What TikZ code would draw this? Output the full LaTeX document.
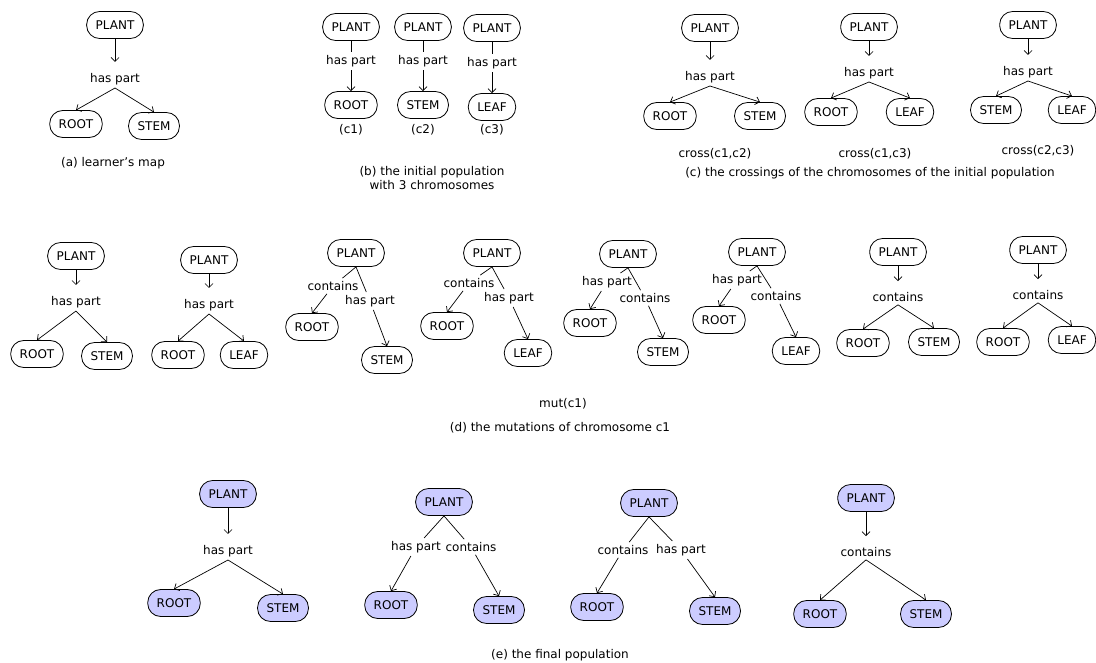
\documentclass[tikz,border=0pt]{standalone}
\usepackage{fontspec}
\setmainfont{DejaVu Sans}
\usetikzlibrary{arrows.meta}
\definecolor{conceptfill}{HTML}{CCCCFF}

\begin{document}
\begin{tikzpicture}[x=1pt,y=-1pt,
      concept/.style={rectangle,draw=black,line width=0.8pt,rounded corners=13pt,
                      minimum height=27pt,inner xsep=9pt,
                      font=\fontsize{12}{14}\selectfont},
      final/.style={concept,fill=conceptfill},
      phrase/.style={inner sep=3pt,font=\fontsize{12}{14}\selectfont},
      caption/.style={align=center,font=\fontsize{12}{14}\selectfont},
      link/.style={draw=black,line width=0.7pt},
      arrow/.style={link,-{Straight Barb[length=4pt,width=8pt]}},
      into/.style={arrow,shorten >=8pt}
    ]

    \fill[white] (0,0) rectangle (1096,663);
    \useasboundingbox (0,0) rectangle (1096,663);

    % (a) learner's map
    \node[concept] (PA) at (115,25) {PLANT};
    \node[phrase] (HA) at (115,79) {has part};
    \node[concept] (RA) at (76,124) {ROOT};
    \node[concept] (SA) at (154,126) {STEM};
    \draw[into] (PA) -- (HA);
    \draw[arrow] (HA.south) -- (RA.north);
    \draw[arrow] (HA.south) -- (SA.north);
    \node[caption] (CA) at (113,163) {(a) learner's map};

    % (b) initial population
    \node[concept] (PB1) at (351,27) {PLANT};
    \node[phrase] (HB1) at (351,61) {has part};
    \node[concept] (RB1) at (351,105) {ROOT};
    \node[caption] (CB1) at (351,130) {(c1)};
    \draw[link] (PB1) -- (HB1);
    \draw[arrow] (HB1) -- (RB1);

    \node[concept] (PB2) at (423,27) {PLANT};
    \node[phrase] (HB2) at (423,61) {has part};
    \node[concept] (SB2) at (423,105) {STEM};
    \node[caption] (CB2) at (423,130) {(c2)};
    \draw[link] (PB2) -- (HB2);
    \draw[arrow] (HB2) -- (SB2);

    \node[concept] (PB3) at (492,28) {PLANT};
    \node[phrase] (HB3) at (492,63) {has part};
    \node[concept] (FB3) at (492,107) {LEAF};
    \node[caption] (CB3) at (492,130) {(c3)};
    \draw[link] (PB3) -- (HB3);
    \draw[arrow] (HB3) -- (FB3);

    \node[caption] (CB) at (432,178) {(b) the initial population\\with 3 chromosomes};

    % (c) crossings
    \node[concept] (PC1) at (710,28) {PLANT};
    \node[phrase] (HC1) at (710,77) {has part};
    \node[concept] (RC1) at (670,116) {ROOT};
    \node[concept] (SC1) at (760,116) {STEM};
    \draw[into] (PC1) -- (HC1);
    \draw[arrow] (HC1.south) -- (RC1.north);
    \draw[arrow] (HC1.south) -- (SC1.north);
    \node[caption] (XC1) at (715,154) {cross(c1,c2)};

    \node[concept] (PC2) at (869,27) {PLANT};
    \node[phrase] (HC2) at (869,73) {has part};
    \node[concept] (RC2) at (831,112) {ROOT};
    \node[concept] (FC2) at (910,112) {LEAF};
    \draw[into] (PC2) -- (HC2);
    \draw[arrow] (HC2.south) -- (RC2.north);
    \draw[arrow] (HC2.south) -- (FC2.north);
    \node[caption] (XC2) at (875,154) {cross(c1,c3)};

    \node[concept] (PC3) at (1028,25) {PLANT};
    \node[phrase] (HC3) at (1028,72) {has part};
    \node[concept] (SC3) at (996,110) {STEM};
    \node[concept] (FC3) at (1072,110) {LEAF};
    \draw[into] (PC3) -- (HC3);
    \draw[arrow] (HC3.south) -- (SC3.north);
    \draw[arrow] (HC3.south) -- (FC3.north);
    \node[caption] (XC3) at (1038,151) {cross(c2,c3)};

    \node[caption] (CC) at (870,173) {(c) the crossings of the chromosomes of the initial population};

    % (d) mutations of c1
    \node[concept] (PD1) at (76,256) {PLANT};
    \node[phrase] (HD1) at (76,302) {has part};
    \node[concept] (RD1) at (37,354) {ROOT};
    \node[concept] (SD1) at (107,356) {STEM};
    \draw[into] (PD1) -- (HD1);
    \draw[arrow] (HD1.south) -- (RD1.north);
    \draw[arrow] (HD1.south) -- (SD1.north);

    \node[concept] (PD2) at (209,260) {PLANT};
    \node[phrase] (HD2) at (209,305) {has part};
    \node[concept] (RD2) at (178,355) {ROOT};
    \node[concept] (FD2) at (244,355) {LEAF};
    \draw[into] (PD2) -- (HD2);
    \draw[arrow] (HD2.south) -- (RD2.north);
    \draw[arrow] (HD2.south) -- (FD2.north);

    \node[concept] (PD3) at (356,253) {PLANT};
    \node[phrase] (KD3) at (333,286) {contains};
    \node[phrase] (HD3) at (370,301) {has part};
    \node[concept] (RD3) at (312,327) {ROOT};
    \node[concept] (SD3) at (387,360) {STEM};
    \draw[link] (PD3.south) -- (KD3);
    \draw[link] (PD3.south) -- (HD3);
    \draw[arrow] (KD3) -- (RD3.north);
    \draw[arrow] (HD3) -- (SD3.north);

    \node[concept] (PD4) at (492,253) {PLANT};
    \node[phrase] (KD4) at (469,283) {contains};
    \node[phrase] (HD4) at (509,298) {has part};
    \node[concept] (RD4) at (447,326) {ROOT};
    \node[concept] (FD4) at (528,353) {LEAF};
    \draw[link] (PD4.south) -- (KD4);
    \draw[link] (PD4.south) -- (HD4);
    \draw[arrow] (KD4) -- (RD4.north);
    \draw[arrow] (HD4) -- (FD4.north);

    \node[concept] (PD5) at (628,254) {PLANT};
    \node[phrase] (HD5) at (607,282) {has part};
    \node[phrase] (KD5) at (645,298) {contains};
    \node[concept] (RD5) at (590,323) {ROOT};
    \node[concept] (SD5) at (663,352) {STEM};
    \draw[link] (PD5.south) -- (HD5);
    \draw[link] (PD5.south) -- (KD5);
    \draw[arrow] (HD5) -- (RD5.north);
    \draw[arrow] (KD5) -- (SD5.north);

    \node[concept] (PD6) at (757,252) {PLANT};
    \node[phrase] (HD6) at (737,280) {has part};
    \node[phrase] (KD6) at (776,296) {contains};
    \node[concept] (RD6) at (719,320) {ROOT};
    \node[concept] (FD6) at (796,351) {LEAF};
    \draw[link] (PD6.south) -- (HD6);
    \draw[link] (PD6.south) -- (KD6);
    \draw[arrow] (HD6) -- (RD6.north);
    \draw[arrow] (KD6) -- (FD6.north);

    \node[concept] (PD7) at (898,252) {PLANT};
    \node[phrase] (KD7) at (898,297) {contains};
    \node[concept] (RD7) at (863,343) {ROOT};
    \node[concept] (SD7) at (934,342) {STEM};
    \draw[into] (PD7) -- (KD7);
    \draw[arrow] (KD7.south) -- (RD7.north);
    \draw[arrow] (KD7.south) -- (SD7.north);

    \node[concept] (PD8) at (1038,250) {PLANT};
    \node[phrase] (KD8) at (1038,295) {contains};
    \node[concept] (RD8) at (1003,342) {ROOT};
    \node[concept] (FD8) at (1072,340) {LEAF};
    \draw[into] (PD8) -- (KD8);
    \draw[arrow] (KD8.south) -- (RD8.north);
    \draw[arrow] (KD8.south) -- (FD8.north);

    \node[caption] (MD) at (563,404) {mut(c1)};
    \node[caption] (CD) at (560,428) {(d) the mutations of chromosome c1};

    % (e) final population
    \node[final] (PE1) at (228,494) {PLANT};
    \node[phrase] (HE1) at (228,551) {has part};
    \node[final] (RE1) at (174,603) {ROOT};
    \node[final] (SE1) at (283,608) {STEM};
    \draw[into] (PE1) -- (HE1);
    \draw[arrow] (HE1.south) -- (RE1.north);
    \draw[arrow] (HE1.south) -- (SE1.north);

    \node[final] (PE2) at (444,502) {PLANT};
    \node[phrase] (HE2) at (416,547) {has part};
    \node[phrase] (KE2) at (471,547) {contains};
    \node[final] (RE2) at (391,605) {ROOT};
    \node[final] (SE2) at (499,610) {STEM};
    \draw[link] (PE2.south) -- (HE2);
    \draw[link] (PE2.south) -- (KE2);
    \draw[arrow] (HE2) -- (RE2.north);
    \draw[arrow] (KE2) -- (SE2.north);

    \node[final] (PE3) at (649,503) {PLANT};
    \node[phrase] (KE3) at (623,550) {contains};
    \node[phrase] (HE3) at (681,550) {has part};
    \node[final] (RE3) at (597,607) {ROOT};
    \node[final] (SE3) at (715,611) {STEM};
    \draw[link] (PE3.south) -- (KE3);
    \draw[link] (PE3.south) -- (HE3);
    \draw[arrow] (KE3) -- (RE3.north);
    \draw[arrow] (HE3) -- (SE3.north);

    \node[final] (PE4) at (866,498) {PLANT};
    \node[phrase] (KE4) at (866,552) {contains};
    \node[final] (RE4) at (820,614) {ROOT};
    \node[final] (SE4) at (926,614) {STEM};
    \draw[into] (PE4) -- (KE4);
    \draw[arrow] (KE4.south) -- (RE4.north);
    \draw[arrow] (KE4.south) -- (SE4.north);

    \node[caption] (CE) at (560,655) {(e) the final population};

  \end{tikzpicture}
\end{document}
